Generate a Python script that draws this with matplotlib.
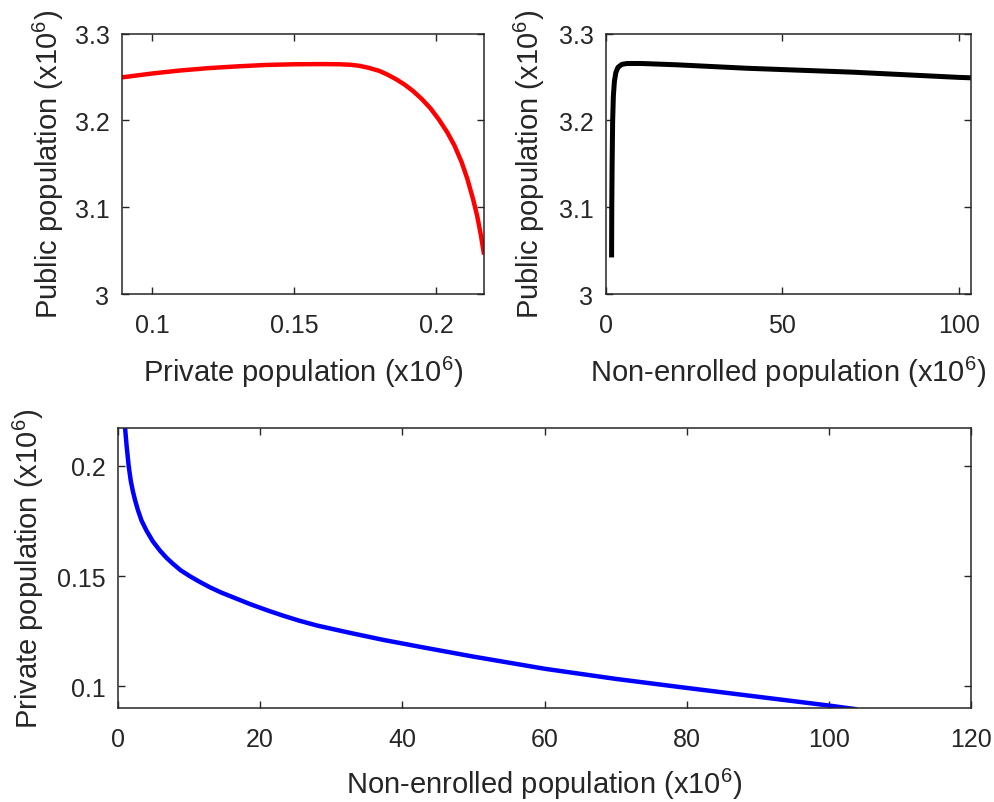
import matplotlib
matplotlib.use('Agg')
import matplotlib.pyplot as plt
from matplotlib import ticker

plt.rcParams['font.family'] = ['Liberation Sans', 'DejaVu Sans']
plt.rcParams['mathtext.default'] = 'regular'

# red curve: public vs private
private_a = [0.0890, 0.100, 0.110, 0.120, 0.130, 0.140, 0.150, 0.160, 0.166, 0.170,
             0.173, 0.176, 0.180, 0.183, 0.186, 0.189, 0.192, 0.195, 0.198, 0.201,
             0.204, 0.2065, 0.209, 0.211, 0.213, 0.2145, 0.2158, 0.2168]
public_a = [3.2494, 3.2540, 3.2575, 3.2602, 3.2622, 3.2638, 3.2646, 3.2648, 3.2646, 3.2640,
            3.2628, 3.2607, 3.2570, 3.2525, 3.2472, 3.2410, 3.2335, 3.2245, 3.2140, 3.2010,
            3.1860, 3.1710, 3.1520, 3.1330, 3.1100, 3.0900, 3.0680, 3.0480]

# black curve: public vs non-enrolled
nonenr_b = [1.6, 1.65, 1.75, 1.9, 2.1, 2.4, 2.8, 3.4, 4.5, 6, 10, 20, 30, 40, 50, 60,
            70, 80, 90, 100, 103.5]
public_b = [3.045, 3.10, 3.15, 3.20, 3.228, 3.245, 3.255, 3.261, 3.2645, 3.2655, 3.2655,
            3.264, 3.262, 3.260, 3.2585, 3.257, 3.2555, 3.2535, 3.2515, 3.2495, 3.249]

# blue curve: private vs non-enrolled
nonenr_c = [1.0, 1.2, 1.5, 1.8, 2.1, 2.4, 2.8, 3.3, 4.0, 4.9, 5.9, 6.8, 7.7, 8.8,
            10.1, 11.5, 12.9, 14.5, 16.2, 18.6, 21.0, 23.3, 25.5, 28.0, 32.6, 37.3,
            43.4, 50.0, 60.0, 70.0, 80.0, 90.0, 100.0, 103.7]
private_c = [0.2170, 0.2095, 0.2000, 0.1932, 0.1884, 0.1845, 0.1800, 0.1753, 0.1707, 0.1658,
             0.1616, 0.1584, 0.1557, 0.1527, 0.1500, 0.1474, 0.1450, 0.1426, 0.1404, 0.1373,
             0.1345, 0.1320, 0.1298, 0.1276, 0.1243, 0.1211, 0.1174, 0.1135, 0.1080, 0.1034,
             0.0993, 0.0953, 0.0913, 0.0897]

txt = '#262626'
fig = plt.figure(figsize=(9.95, 8.03), dpi=100)

def style(ax):
    ax.tick_params(direction='in', top=True, right=True, length=5, width=1,
                   labelsize=18, colors=txt, pad=9)
    ax.tick_params(axis='x', pad=14)
    for s in ax.spines.values():
        s.set_color(txt)
        s.set_linewidth(1.1)
    fmt = ticker.FuncFormatter(lambda v, p: '%g' % v)
    ax.xaxis.set_major_formatter(fmt)
    ax.yaxis.set_major_formatter(fmt)

ax1 = fig.add_axes([0.1226, 0.6326, 0.3638, 0.3244])
ax1.plot(private_a, public_a, color='red', lw=3.2)
ax1.set_xlim(0.0893, 0.2169)
ax1.set_ylim(3.0, 3.3)
ax1.set_xticks([0.1, 0.15, 0.2])
ax1.set_yticks([3.0, 3.1, 3.2, 3.3])
ax1.set_xlabel('Private population (x10$^6$)', fontsize=21, color=txt, labelpad=12)
ax1.set_ylabel('Public population (x10$^6$)', fontsize=21, color=txt, labelpad=6)
style(ax1)

ax2 = fig.add_axes([0.609, 0.6326, 0.3668, 0.3244])
ax2.plot(nonenr_b, public_b, color='black', lw=3.6)
ax2.set_xlim(0.3, 103.5)
ax2.set_ylim(3.0, 3.3)
ax2.set_xticks([0, 50, 100])
ax2.set_yticks([3.0, 3.1, 3.2, 3.3])
ax2.set_xlabel('Non-enrolled population (x10$^6$)', fontsize=21, color=txt, labelpad=12)
ax2.set_ylabel('Public population (x10$^6$)', fontsize=21, color=txt, labelpad=8)
style(ax2)

ax3 = fig.add_axes([0.1186, 0.1171, 0.8573, 0.3483])
ax3.plot(nonenr_c, private_c, color='blue', lw=3.2)
ax3.set_xlim(0, 120)
ax3.set_ylim(0.0902, 0.2171)
ax3.set_xticks([0, 20, 40, 60, 80, 100, 120])
ax3.set_yticks([0.1, 0.15, 0.2])
ax3.set_xlabel('Non-enrolled population (x10$^6$)', fontsize=21, color=txt, labelpad=10)
ax3.set_ylabel('Private population (x10$^6$)', fontsize=21, color=txt, labelpad=8)
style(ax3)

fig.savefig('out.png', dpi=100)
